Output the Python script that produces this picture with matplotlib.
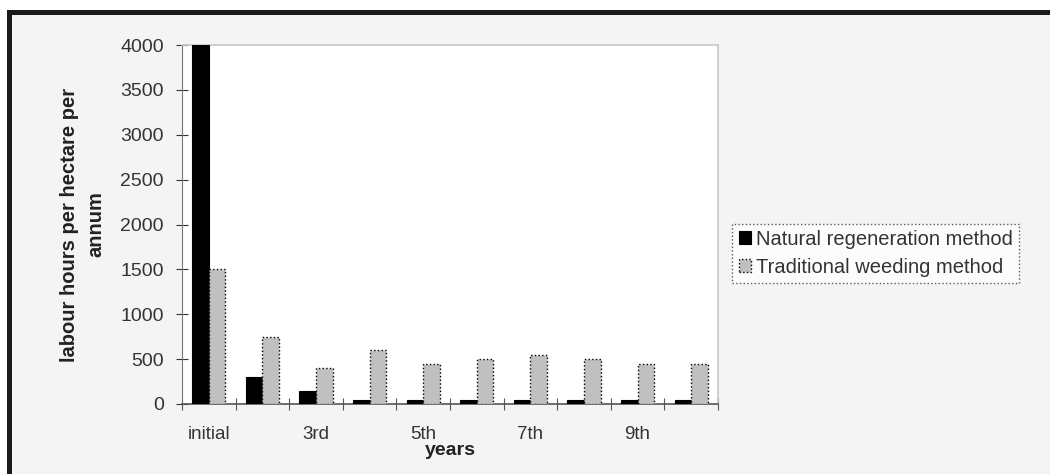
import numpy as np
import matplotlib
matplotlib.use("Agg")
import matplotlib.pyplot as plt
from matplotlib.patches import Rectangle

# datos
years = ["initial", "2nd", "3rd", "4th", "5th", "6th", "7th", "8th", "9th", "10th"]
tick_labels = ["initial", "", "3rd", "", "5th", "", "7th", "", "9th", ""]
natural = [4000, 300, 150, 50, 50, 50, 50, 50, 50, 50]
traditional = [1500, 750, 400, 600, 450, 500, 550, 500, 450, 450]

plt.rcParams['font.family'] = ['Liberation Sans', 'DejaVu Sans']

fig = plt.figure(figsize=(10.5, 4.74), dpi=100, facecolor='white')

# marco exterior (negro arriba e izquierda)
fig.patches.append(Rectangle((8.5 / 1050, -0.1), 1.2, (474 - 12.5) / 474 + 0.1,
                             transform=fig.transFigure, facecolor='#f4f4f4',
                             edgecolor='#1a1a1a', linewidth=3.6, zorder=-10))

ax = fig.add_axes([182 / 1050, 1 - 404 / 474, (718 - 182) / 1050, (404 - 45) / 474])
ax.set_facecolor('white')

x = np.arange(len(years))
w = 0.31
ax.bar(x - w / 2, natural, w, color='black', edgecolor='black', linewidth=0.8,
       label='Natural regeneration method', zorder=3)
ax.bar(x + w / 2, traditional, w, color='#c0c0c0', edgecolor='black', linewidth=1.0,
       linestyle=':', label='Traditional weeding method', zorder=3)

ax.set_xlim(-0.5, len(years) - 0.5)
ax.set_ylim(0, 4000)
ax.set_yticks(np.arange(0, 4001, 500))
ax.tick_params(axis='y', labelsize=14, colors='#333333', direction='inout', length=8, pad=9)

# ticks entre categorias, etiquetas en el centro
ax.set_xticks(np.arange(-0.5, len(years), 1.0))
ax.set_xticklabels([])
ax.set_xticks(x, minor=True)
ax.set_xticklabels(tick_labels, minor=True, fontsize=13.5, color='#333333')
ax.tick_params(axis='x', which='major', direction='inout', length=8, color='#555555')
ax.tick_params(axis='x', which='minor', length=0, pad=16)

for s in ['top', 'right']:
    ax.spines[s].set_color('#c8c8c8')
    ax.spines[s].set_linewidth(1.2)
ax.spines['left'].set_color('#777777')
ax.spines['left'].set_linestyle((0, (3, 1)))
ax.spines['bottom'].set_color('#555555')
ax.spines['bottom'].set_linewidth(1.2)

ax.set_ylabel('labour hours per hectare per\nannum', fontsize=14.5, fontweight='bold',
              color='#222222', labelpad=11, linespacing=1.5)
ax.set_xlabel('years', fontsize=14, fontweight='bold', color='#222222', labelpad=0)
ax.xaxis.set_label_coords(0.5, -0.105)

leg = ax.legend(loc='center left', bbox_to_anchor=(1.027, 0.42), fontsize=14.5,
                frameon=True, fancybox=False, handlelength=0.6, handleheight=0.6,
                handletextpad=0.25, borderpad=0.3, labelspacing=0.45,
                borderaxespad=0)
leg.get_frame().set_edgecolor('#333333')
leg.get_frame().set_linestyle(':')
leg.get_frame().set_linewidth(1.0)
for t in leg.get_texts():
    t.set_color('#333333')

fig.savefig('out.png', dpi=100, facecolor=fig.get_facecolor())
